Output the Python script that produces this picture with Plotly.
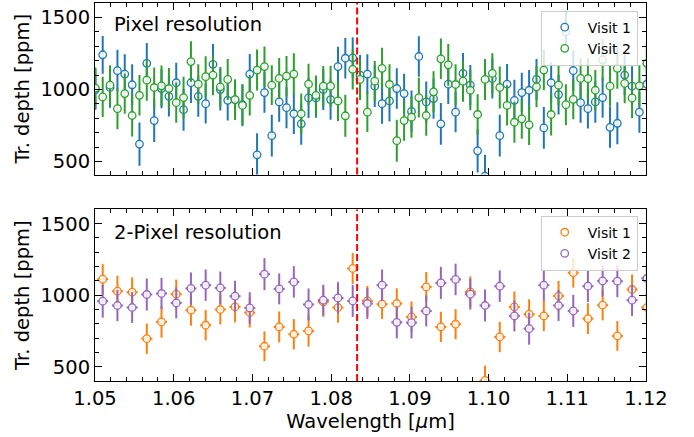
import plotly.graph_objects as go

# ---------------- data ----------------
wl_pix = [1.05005, 1.05098, 1.05191, 1.05285, 1.05378, 1.05472, 1.05565, 1.05658, 1.05752, 1.05845,
          1.05939, 1.06032, 1.06125, 1.06219, 1.06312, 1.06406, 1.06499, 1.06592, 1.06686, 1.06779,
          1.06873, 1.06966, 1.07059, 1.07153, 1.07246, 1.07340, 1.07433, 1.07526, 1.07620, 1.07713,
          1.07807, 1.07900, 1.07993, 1.08087, 1.08180, 1.08274, 1.08367, 1.08460, 1.08554, 1.08647,
          1.08741, 1.08834, 1.08927, 1.09021, 1.09114, 1.09208, 1.09301, 1.09394, 1.09488, 1.09581,
          1.09675, 1.09768, 1.09861, 1.09955, 1.10048, 1.10142, 1.10235, 1.10328, 1.10422, 1.10515,
          1.10609, 1.10702, 1.10795, 1.10889, 1.10982, 1.11076, 1.11169, 1.11262, 1.11356, 1.11449,
          1.11543, 1.11636, 1.11729, 1.11823, 1.11916, 1.12010]

v1_pix = [1000, 1241, 1014, 1131, 1107, 1033, 622, 1182, 785, 1007,
          953, 1047, 860, 1047, 953, 902, 1175, 1000, 925, 930,
          895, 1107, 547, 979, 680, 914, 874, 832, 762, 942,
          942, 1000, 930, 1159, 1217, 1220, 1100, 1107, 1023, 902,
          921, 1007, 972, 848, 1229, 914, 937, 762, 1037, 843,
          1112, 1030, 575, 400, 1077, 680, 1037, 925, 979, 995,
          1070, 734, 1047, 965, 1400, 1131, 909, 867, 914, 944,
          738, 766, 1100, 1023, 843, 1037]

v2_pix = [1010, 949, 1030, 867, 972, 820, 960, 1065, 1014, 1026,
          1007, 909, 944, 1194, 1037, 1089, 1100, 1019, 1070, 930,
          890, 960, 1135, 1159, 1030, 1077, 1093, 1107, 832, 1037,
          960, 1023, 1023, 921, 818, 1140, 1070, 843, 1058, 1147,
          1035, 645, 785, 808, 944, 820, 984, 1213, 1171, 1035,
          1058, 995, 827, 1070, 1112, 1014, 890, 773, 797, 755,
          1019, 1135, 827, 1030, 895, 932, 1077, 1075, 995, 1206,
          1023, 1147, 1042, 942, 1026, 1182]

e1_pix = [140, 131, 140, 145, 138, 142, 150, 140, 148, 136,
          140, 138, 145, 140, 142, 138, 140, 145, 140, 137,
          142, 140, 150, 140, 145, 138, 142, 140, 145, 140,
          138, 142, 140, 138, 140, 142, 140, 138, 145, 140,
          142, 140, 138, 145, 140, 142, 140, 145, 138, 140,
          142, 140, 150, 148, 140, 145, 140, 142, 138, 140,
          142, 145, 140, 138, 140, 142, 140, 138, 145, 140,
          142, 145, 140, 138, 142, 140]

e2_pix = [142, 140, 138, 142, 140, 145, 140, 142, 138, 140,
          142, 140, 145, 140, 138, 142, 140, 138, 142, 140,
          145, 140, 142, 140, 138, 142, 140, 145, 140, 142,
          138, 140, 142, 140, 145, 140, 142, 138, 140, 142,
          140, 145, 140, 142, 138, 140, 142, 140, 145, 140,
          142, 138, 140, 142, 140, 145, 140, 142, 138, 140,
          142, 140, 145, 140, 142, 138, 140, 142, 140, 145,
          140, 142, 138, 140, 142, 140]

wl_2pix = [1.05098, 1.05285, 1.05472, 1.05658, 1.05845, 1.06032, 1.06219, 1.06406, 1.06592, 1.06779,
           1.06966, 1.07153, 1.07340, 1.07526, 1.07713, 1.07900, 1.08087, 1.08274, 1.08460, 1.08647,
           1.08834, 1.09021, 1.09208, 1.09394, 1.09581, 1.09768, 1.09955, 1.10142, 1.10328, 1.10515,
           1.10702, 1.10889, 1.11076, 1.11262, 1.11449, 1.11636, 1.11823, 1.12010]

v1_2pix = [1112, 1028, 1021, 696, 813, 1007, 895, 790, 900, 918,
           879, 643, 778, 727, 750, 953, 914, 1187, 960, 937,
           942, 848, 1058, 778, 797, 1023, 404, 708, 918, 867,
           855, 995, 1157, 836, 930, 715, 1040, 914]

v2_2pix = [958, 928, 914, 1005, 1012, 946, 1047, 1070, 1051, 993,
           911, 1147, 1044, 1093, 935, 965, 981, 960, 942, 1070,
           810, 808, 890, 1086, 1110, 1007, 928, 1063, 855, 766,
           1070, 928, 890, 1063, 1100, 1098, 965, 1117]

e1_2pix = [105, 108, 104, 106, 110, 102, 108, 106, 104, 108,
           105, 104, 108, 106, 110, 104, 106, 108, 105, 104,
           106, 108, 104, 106, 105, 108, 104, 106, 108, 104,
           106, 105, 104, 108, 106, 104, 105, 106]

e2_2pix = [115, 110, 108, 112, 110, 108, 112, 110, 114, 108,
           110, 112, 108, 110, 112, 108, 110, 112, 108, 110,
           112, 110, 108, 112, 110, 108, 112, 110, 108, 112,
           110, 108, 112, 110, 108, 112, 110, 108]

xerr_2pix = [0.0007] * len(wl_2pix)

he_line = 1.0833
x_range = [1.05, 1.12]
y_range_top = [410, 1600]
y_range_bot = [400, 1600]

C1_TOP, C2_TOP = "#1f77b4", "#2ca02c"
C1_BOT, C2_BOT = "#ff7f0e", "#9467bd"
FILL = "rgba(255,255,255,0.85)"
FONT = "DejaVu Sans"
FS = 19.5

fig = go.Figure()


def add(x, y, e, color, name, xa, ya, leg, xe=None):
    kw = dict(
        x=x, y=y, mode="markers", name=name, xaxis=xa, yaxis=ya, legend=leg,
        marker=dict(symbol="circle", size=7.5, color=FILL, line=dict(color=color, width=1.3)),
        error_y=dict(type="data", array=e, color=color, thickness=2, width=0),
        cliponaxis=True,
    )
    if xe is not None:
        kw["error_x"] = dict(type="data", array=xe, color=color, thickness=2, width=0)
    fig.add_trace(go.Scatter(**kw))


add(wl_pix, v1_pix, e1_pix, C1_TOP, "Visit 1", "x", "y", "legend")
add(wl_pix, v2_pix, e2_pix, C2_TOP, "Visit 2", "x", "y", "legend")
add(wl_2pix, v1_2pix, e1_2pix, C1_BOT, "Visit 1", "x2", "y2", "legend2", xerr_2pix)
add(wl_2pix, v2_2pix, e2_2pix, C2_BOT, "Visit 2", "x2", "y2", "legend2", xerr_2pix)

ax_common = dict(
    showline=True, linecolor="black", linewidth=1, mirror="allticks",
    ticks="inside", ticklen=7, tickwidth=1, tickcolor="black",
    showgrid=False, zeroline=False, tickfont=dict(size=FS),
)
x_common = dict(ax_common, range=x_range, tick0=1.05, dtick=0.01,
                minor=dict(ticks="inside", ticklen=4, tickwidth=1, tickcolor="black", dtick=0.002))
y_common = dict(ax_common, tick0=0, dtick=500,
                minor=dict(ticks="inside", ticklen=4, tickwidth=1, tickcolor="black", dtick=100))

fig.update_layout(
    width=694, height=437,
    margin=dict(l=95, r=48, t=3, b=56),
    paper_bgcolor="white", plot_bgcolor="white",
    font=dict(family=FONT, size=FS, color="black"),
    xaxis=dict(x_common, domain=[0, 1], anchor="y", showticklabels=False),
    yaxis=dict(y_common, domain=[0.546, 1], anchor="x", range=y_range_top,
               title=dict(text="Tr. depth [ppm]", standoff=5, font=dict(size=FS))),
    xaxis2=dict(x_common, domain=[0, 1], anchor="y2", tickformat=".2f",
                title=dict(text="Wavelength [<i>μ</i>m]", standoff=0, font=dict(size=FS))),
    yaxis2=dict(y_common, domain=[0, 0.454], anchor="x2", range=y_range_bot,
                title=dict(text="Tr. depth [ppm]", standoff=5, font=dict(size=FS))),
    legend=dict(x=0.985, xanchor="right", y=0.98, yanchor="top",
                bgcolor="rgba(255,255,255,0.8)", bordercolor="#cccccc", borderwidth=1,
                font=dict(size=14), itemwidth=36),
    legend2=dict(x=0.985, xanchor="right", y=0.4375, yanchor="top",
                 bgcolor="rgba(255,255,255,0.8)", bordercolor="#cccccc", borderwidth=1,
                 font=dict(size=14), itemwidth=36),
    showlegend=True,
    annotations=[
        dict(text="Pixel resolution", xref="x domain", yref="y domain", x=0.031, y=0.874,
             xanchor="left", yanchor="middle", showarrow=False, font=dict(size=FS)),
        dict(text="2-Pixel resolution", xref="x2 domain", yref="y2 domain", x=0.031, y=0.868,
             xanchor="left", yanchor="middle", showarrow=False, font=dict(size=FS)),
    ],
    shapes=[
        dict(type="line", xref="x", yref="y domain", x0=he_line, x1=he_line, y0=0, y1=1,
             line=dict(color="red", width=2, dash="7px,3px")),
        dict(type="line", xref="x2", yref="y2 domain", x0=he_line, x1=he_line, y0=0, y1=1,
             line=dict(color="red", width=2, dash="7px,3px")),
    ],
)

fig.write_html("out.html")
